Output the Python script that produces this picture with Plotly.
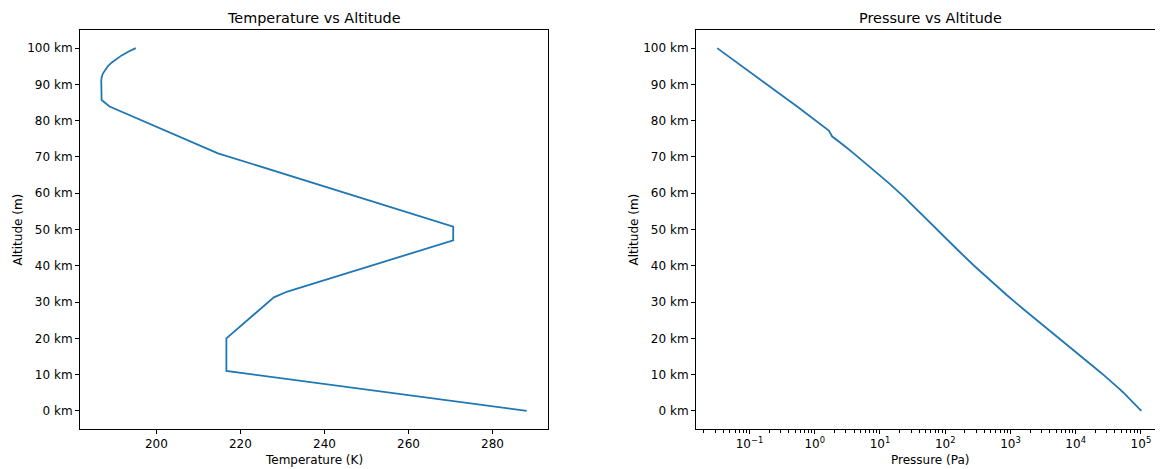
import plotly.graph_objects as go

# ---------------- data ----------------
temp_alt_km = [0, 11, 20, 31.3, 32.9, 47, 50.8, 71, 83.9, 85.7, 91, 92, 93, 94, 95, 96, 97, 98, 99, 100]
temp_K = [288.15, 216.65, 216.65, 227.95, 231.17, 270.65, 270.65, 214.65, 188.85, 186.95, 186.87,
          186.96, 187.25, 187.74, 188.42, 189.31, 190.40, 191.72, 193.28, 195.08]

pres_alt_km = [0, 1, 2, 3, 4, 5, 6, 7, 8, 9, 10, 11, 14, 17, 20, 24, 28, 32, 36, 40, 44, 47, 51,
               55, 59, 63, 67, 71, 73, 75, 75.7, 77.3, 80, 84, 86, 88, 90, 92, 95, 97, 100]
pressure_Pa = [101325, 89876, 79492, 70102, 61640, 54023, 47181, 41060, 35600, 30742, 26436,
               22632, 14102, 8786, 5474.9, 2930.5, 1586.4, 868.02, 484.3, 277.5, 162.96, 110.91,
               66.94, 39.97, 23.33, 13.28, 7.357, 3.956, 2.869, 2.068, 1.841, 1.646, 1.0525,
               0.5312, 0.3734, 0.262, 0.1836, 0.129, 0.0760, 0.0536, 0.0320]

alt_ticks_km = [0, 10, 20, 30, 40, 50, 60, 70, 80, 90, 100]
alt_tick_text = [f"{v} km" for v in alt_ticks_km]
temp_ticks = [200, 220, 240, 260, 280]
pres_tick_exp = [-1, 0, 1, 2, 3, 4, 5]

# ---------------- figure ----------------
OFF = 8                      # page body margin in the browser
W, H = 1163 - OFF, 469 - OFF
FONT = "DejaVu Sans"
BLUE = "#1f77b4"

# page-pixel layout of the axes boxes
L1, R1 = 80, 548
L2, R2 = 696, 1162.5
TOP, BOT = 30, 429

MT = TOP - OFF
MB = H - (BOT - OFF)
PH = H - MT - MB

def px(xp):   # page x -> paper x
    return (xp - OFF) / W

def py(yp):   # page y -> paper y
    return (BOT - yp) / PH

fig = go.Figure()
fig.add_trace(go.Scatter(x=temp_K, y=temp_alt_km, mode="lines",
                         line=dict(color=BLUE, width=1.8), xaxis="x", yaxis="y",
                         showlegend=False))
fig.add_trace(go.Scatter(x=pressure_Pa, y=pres_alt_km, mode="lines",
                         line=dict(color=BLUE, width=1.8), xaxis="x2", yaxis="y2",
                         showlegend=False))

tickfont = dict(family=FONT, size=12, color="black")
common = dict(showline=True, linecolor="black", linewidth=1, mirror=True,
              ticks="outside", ticklen=4, tickwidth=1, tickcolor="black",
              showgrid=False, zeroline=False, tickfont=tickfont)

minor_vals = [m * 10.0 ** e for e in range(-2, 6) for m in range(2, 10)]

fig.update_layout(
    width=W, height=H,
    margin=dict(l=0, r=0, t=MT, b=MB, pad=0),
    paper_bgcolor="white", plot_bgcolor="white",
    font=dict(family=FONT, size=12, color="black"),
    xaxis=dict(domain=[px(L1), px(R1)], range=[181.806, 293.214],
               tickvals=temp_ticks, anchor="y", **common),
    yaxis=dict(domain=[0, 1], range=[-5, 105], tickvals=alt_ticks_km,
               ticktext=alt_tick_text, anchor="x", **common),
    xaxis2=dict(domain=[px(L2), min(1.0, px(R2))], type="log", range=[-1.81973, 5.33074],
                tickvals=[10.0 ** e for e in pres_tick_exp],
                ticktext=[f"10<sup>{'−' if e < 0 else ''}{abs(e)}</sup>" for e in pres_tick_exp],
                minor=dict(tickvals=minor_vals, ticks="outside", ticklen=2.5,
                           tickwidth=0.7, tickcolor="black", showgrid=False),
                anchor="y2", **common),
    yaxis2=dict(domain=[0, 1], range=[-5, 105], tickvals=alt_ticks_km,
                ticktext=alt_tick_text, anchor="x2", **common),
)

def ann(text, x, y, size, angle=0):
    fig.add_annotation(text=text, x=px(x), y=py(y), xref="paper", yref="paper",
                       showarrow=False, textangle=angle, xanchor="center", yanchor="middle",
                       font=dict(family=FONT, size=size, color="black"))

ann("Temperature vs Altitude", (L1 + R1) / 2, 18, 14.4)
ann("Pressure vs Altitude", (L2 + 1164) / 2, 18, 14.4)
ann("Temperature (K)", (L1 + R1) / 2, 460, 12)
ann("Pressure (Pa)", (L2 + 1164) / 2, 460, 12)
ann("Altitude (m)", 17, (TOP + BOT) / 2, 12, -90)
ann("Altitude (m)", 633, (TOP + BOT) / 2, 12, -90)

fig.write_html("out.html")
